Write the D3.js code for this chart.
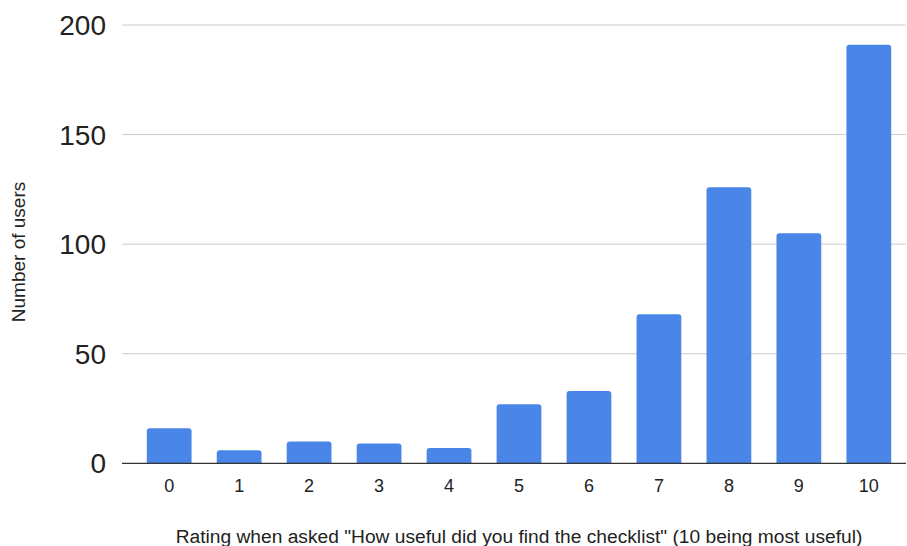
<!DOCTYPE html>
<html>
<head>
<meta charset="utf-8">
<script src="https://cdn.jsdelivr.net/npm/d3@7/dist/d3.min.js"></script>
<style>
  html, body { margin: 0; padding: 0; background: #fff; }
  svg { display: block; }
  text { font-family: "Liberation Sans", Arial, sans-serif; fill: #222; }
</style>
</head>
<body>
<svg id="chart" width="907" height="546"></svg>
<script>
const categories = ["0", "1", "2", "3", "4", "5", "6", "7", "8", "9", "10"];
const users = [16, 6, 10, 9, 7, 27, 33, 68, 126, 105, 191];
const yTicks = [0, 50, 100, 150, 200];
const xTitle = 'Rating when asked "How useful did you find the checklist" (10 being most useful)';
const yTitle = "Number of users";

const svg = d3.select("#chart");
const plotLeft = 122, plotRight = 906;
const y = d3.scaleLinear().domain([0, 200]).range([463.3, 25]);
const x = d3.scaleBand().domain(categories).range([134.2, 903.8])
  .paddingInner(0.36).paddingOuter(0.18);

// gridlines
svg.append("g").selectAll("line").data(yTicks.filter(d => d !== 0)).join("line")
  .attr("x1", plotLeft).attr("x2", plotRight)
  .attr("y1", d => y(d)).attr("y2", d => y(d))
  .attr("stroke", "#cccccc").attr("stroke-width", 1);

// y tick labels
svg.append("g").selectAll("text").data(yTicks).join("text")
  .attr("x", 106).attr("y", d => y(d)).attr("dy", "0.36em")
  .attr("text-anchor", "end").attr("font-size", 28)
  .text(d => d);

// bars with rounded top corners
const r = 3;
svg.append("g").selectAll("path").data(users).join("path")
  .attr("fill", "#4a86e8")
  .attr("d", (d, i) => {
    const x0 = x(categories[i]), w = x.bandwidth();
    const yt = y(d), yb = y(0);
    return `M${x0},${yb} L${x0},${yt + r} Q${x0},${yt} ${x0 + r},${yt} L${x0 + w - r},${yt} Q${x0 + w},${yt} ${x0 + w},${yt + r} L${x0 + w},${yb} Z`;
  });

// baseline
svg.append("line")
  .attr("x1", plotLeft).attr("x2", plotRight)
  .attr("y1", y(0)).attr("y2", y(0))
  .attr("stroke", "#333333").attr("stroke-width", 1.2);

// x tick labels
svg.append("g").selectAll("text").data(categories).join("text")
  .attr("x", d => x(d) + x.bandwidth() / 2).attr("y", 491.5)
  .attr("text-anchor", "middle").attr("font-size", 18)
  .text(d => d);

// x title
svg.append("text")
  .attr("x", 519).attr("y", 543)
  .attr("text-anchor", "middle").attr("font-size", 19.2)
  .text(xTitle);

// y title
svg.append("text")
  .attr("transform", "translate(25,252) rotate(-90)")
  .attr("text-anchor", "middle").attr("font-size", 19)
  .text(yTitle);
</script>
</body>
</html>
